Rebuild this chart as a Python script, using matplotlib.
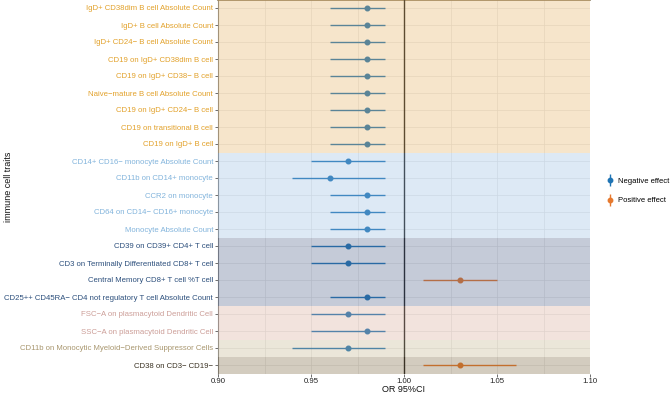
import matplotlib
matplotlib.use("Agg")
import matplotlib.pyplot as plt
from matplotlib.lines import Line2D
import numpy as np

plt.rcParams['font.family'] = ['Liberation Sans', 'DejaVu Sans']

M = '\u2212'
traits = [
    "IgD+ CD38dim B cell Absolute Count",
    "IgD+ B cell Absolute Count",
    f"IgD+ CD24{M} B cell Absolute Count",
    "CD19 on IgD+ CD38dim B cell",
    f"CD19 on IgD+ CD38{M} B cell",
    f"Naive{M}mature B cell Absolute Count",
    f"CD19 on IgD+ CD24{M} B cell",
    "CD19 on transitional B cell",
    "CD19 on IgD+ B cell",
    f"CD14+ CD16{M} monocyte Absolute Count",
    "CD11b on CD14+ monocyte",
    "CCR2 on monocyte",
    f"CD64 on CD14{M} CD16+ monocyte",
    "Monocyte Absolute Count",
    "CD39 on CD39+ CD4+ T cell",
    "CD3 on Terminally Differentiated CD8+ T cell",
    "Central Memory CD8+ T cell %T cell",
    f"CD25++ CD45RA{M} CD4 not regulatory T cell Absolute Count",
    f"FSC{M}A on plasmacytoid Dendritic Cell",
    f"SSC{M}A on plasmacytoid Dendritic Cell",
    f"CD11b on Monocytic Myeloid{M}Derived Suppressor Cells",
    f"CD38 on CD3{M} CD19{M}",
]
or_val = [0.98]*9 + [0.97, 0.96, 0.98, 0.98, 0.98,
                     0.97, 0.97, 1.03, 0.98,
                     0.97, 0.98, 0.97, 1.03]
ci_low = [0.96]*9 + [0.95, 0.94, 0.96, 0.96, 0.96,
                     0.95, 0.95, 1.01, 0.96,
                     0.95, 0.95, 0.94, 1.01]
ci_high = [0.99]*9 + [0.99, 0.99, 0.99, 0.99, 0.99,
                      0.99, 0.99, 1.05, 0.99,
                      0.99, 0.99, 0.99, 1.06]

group_sizes = [9, 5, 4, 2, 1, 1]
group_fill = ['#E4AC55', '#91B9E1', '#415580', '#D4A591', '#C0AF84', '#70582D']
group_text = ['#E2A12A', '#82B4DC', '#2C4F7C', '#CC9E98', '#A8966E', '#3A3222']

neg_col = '#1f74b4'
pos_col = '#e6792e'

fig = plt.figure(figsize=(6.72, 3.94), dpi=100)
ax = fig.add_axes([218/672, 1 - 373.5/394, (590-218)/672, 374/394])

n = len(traits)
ys = np.arange(1, n + 1)

# grid
for gx in np.arange(0.9, 1.1001, 0.025):
    ax.axvline(gx, color='#e6e6e6', lw=0.5, zorder=0)
for y in ys:
    ax.axhline(y, color='#e6e6e6', lw=0.5, zorder=0)

for y, o, lo, hi in zip(ys, or_val, ci_low, ci_high):
    c = pos_col if o > 1 else neg_col
    ax.plot([lo, hi], [y, y], color=c, lw=1.0, zorder=2, solid_capstyle='butt')
    ax.plot([o], [y], 'o', color=c, ms=3.3, zorder=3)

ax.axvline(1.0, color='#222222', lw=1.0, zorder=4)

# background group bands drawn translucently on top
start = 0.5
for size, fc in zip(group_sizes, group_fill):
    ax.axhspan(start, start + size, color=fc, alpha=0.3, lw=0, zorder=5)
    start += size

ax.set_xlim(0.9, 1.1)
ax.set_ylim(n + 0.5, 0.5)
ax.set_xticks([0.90, 0.95, 1.00, 1.05, 1.10])
ax.set_xticklabels(['0.90', '0.95', '1.00', '1.05', '1.10'])
ax.set_yticks(ys)
ax.set_yticklabels(traits)

colors = []
for size, tc in zip(group_sizes, group_text):
    colors += [tc] * size
for lab, tc in zip(ax.get_yticklabels(), colors):
    lab.set_color(tc)

ax.tick_params(axis='y', labelsize=5.6, length=2, width=0.6, color='#555555', pad=1.5)
ax.tick_params(axis='x', labelsize=5.6, length=2, width=0.6, color='#555555', pad=1.5, labelcolor='#222222')

ax.spines['right'].set_visible(False)
ax.spines['top'].set_color('#8a7a5e')
ax.spines['top'].set_linewidth(1.2)
ax.spines['left'].set_color('#888888')
ax.spines['left'].set_linewidth(0.8)
ax.spines['bottom'].set_visible(False)

ax.set_xlabel('OR 95%CI', fontsize=6.5, labelpad=0, color='#111111')
ax.set_ylabel('immune cell traits', fontsize=6.5, color='#111111')
ax.yaxis.set_label_coords(-205/372, 0.5)

h_neg = (Line2D([], [], marker='|', ms=9, mew=1.0, color=neg_col, ls='None'),
         Line2D([], [], marker='o', ms=3.2, color=neg_col, ls='None'))
h_pos = (Line2D([], [], marker='|', ms=9, mew=1.0, color=pos_col, ls='None'),
         Line2D([], [], marker='o', ms=3.2, color=pos_col, ls='None'))
fig.legend([h_neg, h_pos], ['Negative effect', 'Positive effect'],
           loc='center left', bbox_to_anchor=(607/672, 1 - 191/394),
           frameon=False, fontsize=5.5, handlelength=0.9, handletextpad=0.6,
           labelspacing=1.6, borderpad=0, borderaxespad=0)

fig.savefig('out.png', dpi=100)
